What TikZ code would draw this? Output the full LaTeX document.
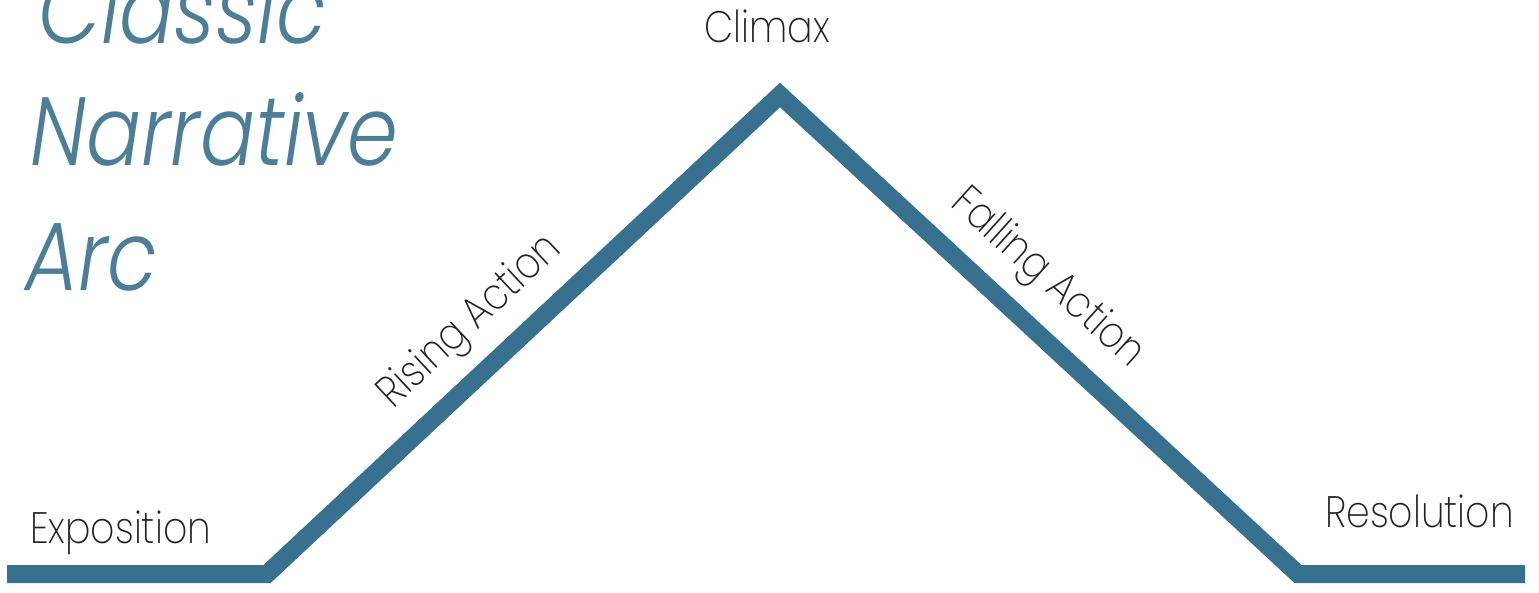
\documentclass[tikz,border=0pt]{standalone}
\usepackage{fontspec}
\setmainfont{Poppins}[UprightFont={* Light}, ItalicFont={* Light Italic}]
\newfontfamily\titlefont{Poppins}[UprightFont={* Light Italic}, FakeStretch=0.84]
\newfontfamily\labfont{Poppins}[UprightFont={* ExtraLight}, FakeStretch=0.86]
\definecolor{arcblue}{HTML}{37718F}
\definecolor{titleblue}{HTML}{4C7F97}
\definecolor{labelgray}{HTML}{222222}
\begin{document}
\begin{tikzpicture}[x=1pt,y=-1pt,
  title/.style={font=\titlefont\fontsize{97}{97}\selectfont, text=titleblue, inner sep=0pt, anchor=base west},
  lab/.style={font=\labfont\fontsize{44}{44}\selectfont, text=labelgray, inner sep=0pt},
  arc/.style={draw=arcblue, line width=18pt, line join=miter, line cap=butt}]
\useasboundingbox (0,0) rectangle (1539,592);
\fill[white] (0,0) rectangle (1539,592);
% title
\node[title] (t1) at (38,43) {Classic};
\node[title] (t2) at (30,165) {Narrative};
\node[title] (t3) at (25,290) {Arc};
% arc coordinates
\coordinate (start) at (7,574);
\coordinate (c1) at (267,574);
\coordinate (peak) at (780,95);
\coordinate (c2) at (1298,574);
\coordinate (stop) at (1525,574);
\draw[arc] (start) -- (c1) -- (peak) -- (c2) -- (stop);
% labels
\node[lab, anchor=base] (climax) at (767,42) {Climax};
\node[lab, anchor=base west] (expo) at (30,543) {Exposition};
\node[lab, anchor=base west] (reso) at (1325,527) {Resolution};
\node[lab, anchor=base, rotate=43] (rising) at (478,330) {Rising Action};
\node[lab, anchor=base, rotate=-42] (falling) at (1040,287) {Falling Action};
\end{tikzpicture}
\end{document}
